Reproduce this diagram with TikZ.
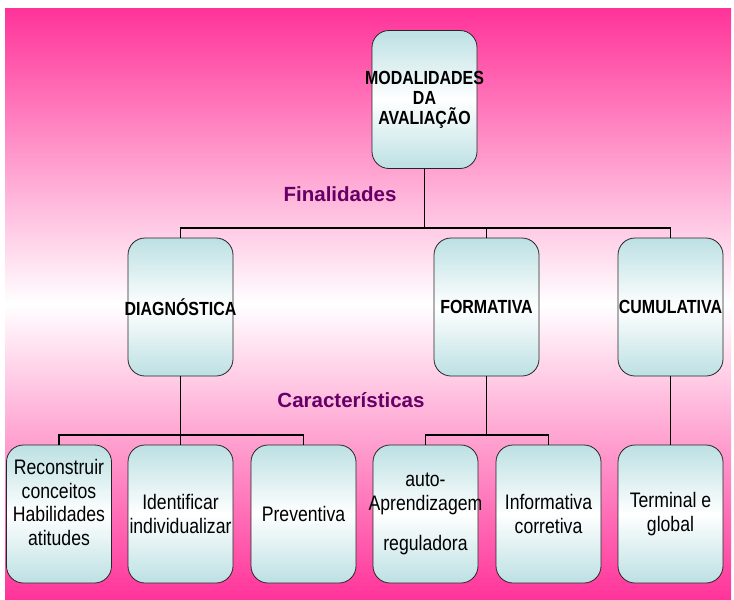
\documentclass[tikz,border=0pt]{standalone}
\usepackage{fontspec}
\setmainfont{Liberation Sans}
\newfontfamily\narrowsans[FakeStretch=0.84]{Liberation Sans}
\usetikzlibrary{positioning}
\definecolor{bgpink}{RGB}{255,51,153}
\definecolor{boxblue}{RGB}{188,224,227}
\definecolor{labelpurple}{RGB}{102,0,102}
\newcommand{\overtext}[1]{\makebox[0pt]{#1}}

\begin{document}
\begin{tikzpicture}[x=1pt,y=-1pt,
    box/.style={draw=black!85, line width=0.8pt, rounded corners=17pt,
      top color=boxblue, bottom color=boxblue, middle color=white,
      minimum width=105pt, minimum height=138pt, inner sep=0pt, align=center,
      font=\narrowsans\fontsize{21}{23.5}\selectfont},
    headbox/.style={box, font=\narrowsans\bfseries\fontsize{19}{20}\selectfont},
    branch/.style={line width=1.8pt},
    caption/.style={text=labelpurple, font=\bfseries\fontsize{20.5}{24}\selectfont}]

      \useasboundingbox (0,0) rectangle (734,600);
      \shade[top color=bgpink, bottom color=bgpink, middle color=white] (5,8) rectangle (731,600);

      % top
      \node[headbox] (modal) at (424.5,99.5) {\overtext{MODALIDADES}\\DA\\AVALIAÇÃO};
      \node[caption] (fin) at (340,194) {Finalidades};

      % purposes
      \node[headbox] (diag) at (180.5,307) {\overtext{DIAGNÓSTICA}};
      \node[headbox] (form) at (486.5,307) {\overtext{FORMATIVA}};
      \node[headbox] (cum)  at (670.5,307) {\overtext{CUMULATIVA}};
      \node[caption] (carac) at (351,400) {Características};

      % features
      \node[box] (recon) at (59,514)    {Reconstruir\\conceitos\\\overtext{Habilidades}\\atitudes\\\mbox{}};
      \node[box] (ident) at (180.5,514) {Identificar\\\overtext{individualizar}};
      \node[box] (prev)  at (303.5,514) {Preventiva};
      \node[box] (auto)  at (425.5,514) {auto-\\\overtext{Aprendizagem}\\[16.5pt]reguladora};
      \node[box] (info)  at (548.5,514) {Informativa\\corretiva};
      \node[box] (term)  at (670.5,514) {Terminal e\\global};

      % connectors
      \coordinate (finbus) at (0,228);
      \coordinate (featbus) at (0,435);

      \draw[branch] (modal.south) -- (modal.south |- finbus);
      \draw[branch] (diag.north) -- (diag.north |- finbus) -| (cum.north);
      \draw[branch] (form.north) -- (form.north |- finbus);

      \draw[branch] (diag.south) -- (diag.south |- featbus);
      \draw[branch] (recon.north) -- (recon.north |- featbus) -| (prev.north);
      \draw[branch] (ident.north) -- (ident.north |- featbus);

      \draw[branch] (form.south) -- (form.south |- featbus);
      \draw[branch] (auto.north) -- (auto.north |- featbus) -| (info.north);

      \draw[branch] (cum.south) -- (term.north);

\end{tikzpicture}
\end{document}
